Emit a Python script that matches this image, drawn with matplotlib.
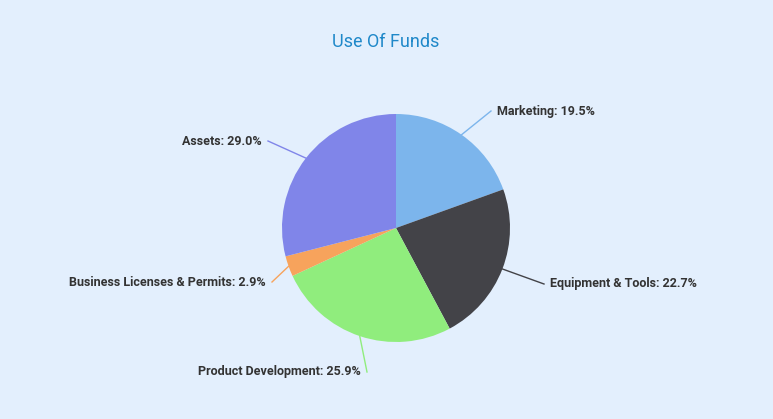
import numpy as np
import matplotlib
matplotlib.use('Agg')
import matplotlib.pyplot as plt

labels = ['Marketing', 'Equipment & Tools', 'Product Development',
          'Business Licenses & Permits', 'Assets']
shares = [19.5, 22.7, 25.9, 2.9, 29.0]
colors = ['#7cb5ec', '#434348', '#90ed7d', '#f7a35c', '#8085e9']

W, H = 773, 419
fig = plt.figure(figsize=(W / 100, H / 100), dpi=100)
fig.patch.set_facecolor('#e3effd')
ax = fig.add_axes([0, 0, 1, 1])
ax.set_xlim(0, W)
ax.set_ylim(0, H)
ax.axis('off')

cx, cy, r = 396, H - 228, 114
wedges, _ = ax.pie(shares, colors=colors, startangle=90, counterclock=False,
                   center=(cx, cy), radius=r, frame=True,
                   wedgeprops=dict(linewidth=0))
ax.set_xlim(0, W)
ax.set_ylim(0, H)
ax.set_aspect('equal')
ax.axis('off')

# label text anchor points (pixel coords, top-left origin) and alignment
label_pos = [(497, 111, 'left'), (550, 284, 'left'), (361, 372, 'right'),
             (266, 282, 'right'), (262, 141, 'right')]

for w, lab, val, col, (tx, ty, ha) in zip(wedges, labels, shares, colors, label_pos):
    ang = np.deg2rad((w.theta1 + w.theta2) / 2)
    ex, ey = cx + r * np.cos(ang), cy + r * np.sin(ang)
    ty = H - ty
    lx = tx - 6 if ha == 'left' else tx + 6
    ax.plot([ex, lx], [ey, ty], color=col, lw=1)
    ax.text(tx, ty, f'{lab}: {val}%', ha=ha, va='center', fontsize=9,
            fontweight='bold', color='#333333', family='Roboto')

ax.text(W / 2 - 1, H - 42, 'Use Of Funds', ha='center', va='center',
        fontsize=13, color='#1f88c9', family='Roboto')

fig.savefig('out.png', dpi=100, facecolor=fig.get_facecolor())
